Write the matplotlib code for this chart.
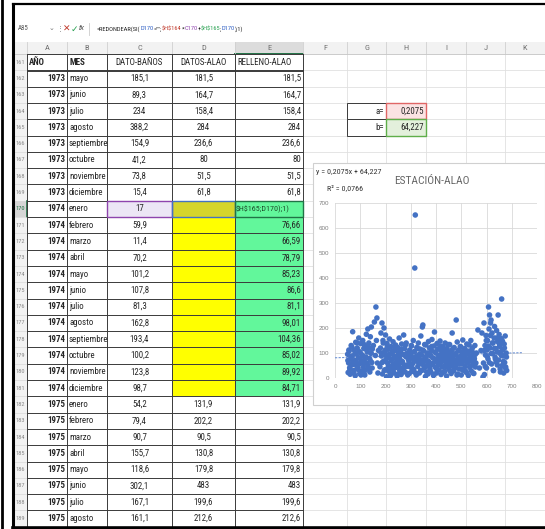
import numpy as np
import matplotlib.pyplot as plt
from matplotlib import font_manager
from matplotlib.font_manager import FontProperties
from matplotlib.patches import Rectangle

plt.rcParams['font.family'] = ['Liberation Sans', 'DejaVu Sans']


def _peso(f):
    w = f.weight
    if isinstance(w, str):
        w = font_manager.weight_dict.get(w, 400)
    return w


# fuente estrecha tipo hoja de cálculo, si hay alguna instalada
preferidas = ['Liberation Sans Narrow', 'Roboto Condensed', 'DejaVu Sans Condensed', 'Open Sans Condensed']
estrechas = [f for f in font_manager.fontManager.ttflist
             if f.style == 'normal' and (any(w in f.name for w in ('Narrow', 'Condensed'))
                                         or f.stretch in ('condensed', 'semi-condensed'))]
estrechas.sort(key=lambda f: preferidas.index(f.name) if f.name in preferidas else 99)
reg = [f for f in estrechas if 350 <= _peso(f) <= 450]
neg = [f for f in estrechas if _peso(f) >= 600]


def fuente(size, bold=False):
    if bold and neg:
        return FontProperties(fname=neg[0].fname, size=size)
    if reg:
        return FontProperties(fname=reg[0].fname, size=size)
    return FontProperties(family=['Liberation Sans', 'DejaVu Sans'], size=size * 0.9,
                          weight='bold' if bold else 'normal')


# ---- hoja de cálculo ----
encabezados = ['AÑO', 'MES', 'DATO-BAÑOS', 'DATOS-ALAO', 'RELLENO-ALAO']
primera_fila = 161
anios = [1973] * 8 + [1974] * 12 + [1975] * 8
meses = ['mayo', 'junio', 'julio', 'agosto', 'septiembre', 'octubre', 'noviembre', 'diciembre',
         'enero', 'febrero', 'marzo', 'abril', 'mayo', 'junio', 'julio', 'agosto',
         'septiembre', 'octubre', 'noviembre', 'diciembre',
         'enero', 'febrero', 'marzo', 'abril', 'mayo', 'junio', 'julio', 'agosto']
dato_banos = [185.1, 89.3, 234, 388.2, 154.9, 41.2, 73.8, 15.4,
              17, 59.9, 11.4, 70.2, 101.2, 107.8, 81.3, 162.8, 193.4, 100.2, 123.8, 98.7,
              54.2, 79.4, 90.7, 155.7, 118.6, 302.1, 167.1, 161.1]
datos_alao = [181.5, 164.7, 158.4, 284, 236.6, 80, 51.5, 61.8] + [None] * 12 + \
             [131.9, 202.2, 90.5, 130.8, 179.8, 483, 199.6, 212.6]
relleno_alao = [181.5, 164.7, 158.4, 284, 236.6, 80, 51.5, 61.8,
                None, 76.66, 66.59, 78.79, 85.23, 86.6, 81.1, 98.01, 104.36, 85.02, 89.92, 84.71,
                131.9, 202.2, 90.5, 130.8, 179.8, 483, 199.6, 212.6]
coef_a, coef_b, r2 = 0.2075, 64.227, 0.0766

formula = [('=REDONDEAR(SI(', '#222222'), ('D170', '#2f5fc4'), ('="";', '#222222'),
           ('$H$164', '#c0392b'), ('*', '#222222'), ('C170', '#8e44ad'), ('+', '#222222'),
           ('$H$165', '#27a050'), (';', '#222222'), ('D170', '#2f5fc4'), (');1)', '#222222')]

# ---- puntos del gráfico (mes, precipitación) ----
mes_x = [50, 52, 54, 56, 58, 60, 62, 64, 66, 68,
         70, 72, 74, 76, 78, 80, 82, 84, 86, 88,
         90, 92, 94, 96, 98, 100, 102, 104, 106, 108,
         110, 112, 114, 116, 118, 120, 122, 124, 126, 128,
         130, 132, 134, 136, 138, 140, 142, 144, 146, 148,
         152, 156, 160, 162, 164, 166, 168, 170, 172,
         178, 180, 182, 184, 186, 188, 190, 192, 194, 196,
         198, 200, 202, 204, 206, 208, 210, 212, 214, 216,
         218, 220, 222, 224, 226, 228, 230, 232, 234, 236,
         238, 240, 242, 244, 246, 248, 250, 252, 254, 256,
         258, 260, 262, 264, 266, 268, 270, 272, 274, 276,
         278, 280, 282, 284, 286, 288, 290,
         292, 294, 296, 298, 300, 302, 304, 306, 308, 310,
         312, 314, 316, 318, 320, 322, 324, 326, 328, 330,
         332, 334, 336, 338, 340, 342, 344, 346, 348, 350,
         352, 354, 356, 358, 360, 362, 364, 366, 368, 370,
         372, 374, 376, 378, 380, 382, 384, 386, 388, 390,
         392, 394, 396, 398, 400, 402, 404, 406, 408, 410,
         412, 414, 416, 418, 420, 422, 424, 426, 428, 430,
         432, 434, 436, 438, 440, 442, 444, 446, 448, 450,
         452, 454, 456, 458, 460, 462, 464, 466, 468, 470,
         472, 474, 476, 478, 480, 482, 484, 486, 488, 490,
         492, 494, 496, 498, 500, 502, 504, 506, 508, 510,
         512, 514, 516, 518, 520, 522, 524, 526, 528, 530,
         532, 534, 536, 538, 540, 542, 544, 546, 548, 550,
         552, 554, 556, 558, 560,
         566, 572, 578, 582, 586,
         588, 590, 592, 594, 596, 598, 600, 602, 604, 606,
         608, 610, 612, 614, 616, 618, 620, 622, 624, 626,
         628, 630, 632, 634, 636, 638, 640, 642, 644, 646,
         648, 650, 652, 654, 656, 658, 660, 662, 664, 666,
         668, 670, 672, 674, 676, 678, 680,
         51, 55, 59, 63, 67, 71, 75, 79, 83, 87,
         91, 95, 99, 103, 107, 111, 115, 119, 123, 127,
         131, 135, 139, 143, 147,
         183, 187, 191, 195, 199, 203, 207, 211, 215, 219,
         223, 227, 231, 235, 239, 243, 247, 251, 255, 259,
         263, 267, 271, 275, 279, 283, 287,
         295, 299, 303, 307, 311, 315, 319, 323, 327, 331,
         335, 339, 343, 347, 351, 355, 359, 363, 367, 371,
         375, 379, 383, 387, 391, 395, 399, 403, 407, 411,
         415, 419, 423, 427, 431, 435, 439, 443, 447, 451,
         455, 459, 463, 467, 471, 475, 479, 483, 487, 491,
         495, 499, 503, 507, 511, 515, 519, 523, 527, 531,
         535, 539, 543, 547, 551, 555,
         591, 595, 599, 603, 607, 611, 615, 619, 623, 627,
         631, 635, 639, 643, 647, 651, 655, 659, 663, 667,
         671, 675, 679]
lluvia_y = [95, 22, 60, 108, 41, 15, 77, 130, 52, 88,
            185, 64, 30, 112, 70, 9, 143, 96, 48, 120,
            35, 81, 160, 57, 18, 102, 138, 66, 27, 91,
            150, 44, 118, 72, 12, 128, 84, 175, 58, 104,
            196, 38, 140, 78, 24, 165, 99, 204, 62, 116,
            130, 224, 90, 284, 150, 240, 60, 20, 110,
            45, 120, 180, 88, 220, 16, 150, 67, 200, 104,
            33, 172, 92, 5, 138, 60, 115, 28, 84, 156,
            48, 10, 126, 74, 98, 38, 145, 56, 20, 110,
            80, 132, 42, 66, 8, 122, 90, 54, 160, 30,
            72, 106, 14, 136, 62, 94, 36, 172, 50, 118,
            24, 86, 140, 46, 100, 12, 76,
            70, 18, 112, 44, 96, 130, 26, 82, 58, 150,
            34, 104, 440, 652, 68, 12, 122, 88, 46, 140,
            76, 20, 116, 58, 168, 92, 30, 204, 212, 64,
            108, 40, 84, 6, 132, 72, 50, 98, 16, 146,
            62, 120, 36, 88, 24, 110, 154, 54, 80, 10,
            128, 184, 66, 42, 100, 20, 138, 74, 56, 116,
            32, 90, 148, 60, 14, 106, 78, 44, 124, 68,
            96, 26, 140, 52, 84, 8, 118, 64, 102, 38,
            76, 134, 48, 92, 18, 110, 180, 58, 86, 28,
            122, 70, 40, 98, 232, 54, 144, 16, 82, 112,
            36, 66, 126, 88, 12, 104, 56, 152, 74, 30,
            94, 118, 46, 80, 22, 136, 62, 100, 10, 72,
            108, 42, 86, 150, 28, 68, 120, 52, 96, 18,
            78, 130, 44, 60, 100,
            192, 40, 110, 180, 4,
            60, 220, 14, 130, 92, 170, 40, 112, 150, 76,
            284, 196, 252, 120, 220, 232, 56, 180, 98, 140,
            30, 160, 206, 84, 118, 64, 190, 104, 146, 252,
            72, 174, 126, 36, 96, 158, 316, 50, 112, 88,
            20, 136, 62, 168, 44, 100, 30,
            70, 112, 34, 86, 124, 55, 20, 98, 66, 140,
            40, 106, 78, 12, 92, 60, 134, 30, 82, 110,
            50, 122, 72, 100, 40,
            100, 62, 140, 30, 112, 76, 128, 46, 96, 18,
            70, 108, 34, 88, 124, 58, 14, 102, 80, 40,
            116, 66, 26, 94, 132, 52, 84,
            54, 92, 128, 38, 74, 106, 20, 86, 118, 62,
            96, 30, 72, 112, 50, 134, 82, 24, 100, 66,
            44, 90, 126, 58, 14, 104, 76, 36, 116, 88,
            52, 128, 70, 22, 96, 110, 46, 80, 134, 60,
            28, 102, 74, 118, 40, 92, 64, 12, 108, 84,
            56, 124, 34, 90, 70, 114, 26, 98, 62, 132,
            48, 80, 106, 20, 74, 94,
            110, 46, 150, 86, 128, 62, 170, 98, 140, 30,
            118, 76, 160, 52, 104, 136, 24, 90, 148, 66,
            120, 40, 84]
rango_tendencia = [0, 740]


def fmt(v):
    return f"{v:g}".replace(".", ",")


W, H = 545, 529
fig = plt.figure(figsize=(W / 100, H / 100), dpi=100)
ax = fig.add_axes([0, 0, 1, 1])
ax.set_xlim(0, W)
ax.set_ylim(H, 0)
ax.axis('off')

bordes = [14, 27, 67, 107, 172, 235, 303, 347, 386, 426, 466, 505, 545]
letras = ['A', 'B', 'C', 'D', 'E', 'F', 'G', 'H', 'I', 'J', 'K']
y0, alto = 54, 16.3
n_filas = 1 + len(meses)
y_fin = y0 + n_filas * alto
tam = 6.4
texto = '#262626'
oscuro = '#3a3a3a'

# barra de fórmulas
ax.text(18, 29, 'A85', fontproperties=fuente(5), color='#555555', va='center')
ax.text(49, 29, '⌄', fontsize=5, color='#777777', va='center')
ax.text(57, 29, '⋮', fontsize=5, color='#777777', va='center')
ax.text(63, 29, '✕', fontsize=6.5, color='#c0392b', va='center')
ax.text(71, 29, '✓', fontsize=6.5, color='#27a050', va='center')
ax.text(79, 29, 'fx', fontsize=5.5, style='italic', color='#444444', va='center')
ax.plot([89, 89], [23, 35], color='#cccccc', lw=0.6)
fig.canvas.draw()
rend = fig.canvas.get_renderer()
xf = 97
for trozo, col in formula:
    t = ax.text(xf, 29, trozo, fontproperties=fuente(4.6), color=col, va='center', parse_math=False)
    bb = t.get_window_extent(rend)
    xf = ax.transData.inverted().transform((bb.x1, bb.y0))[0]

# encabezado de columnas
ax.add_patch(Rectangle((bordes[0], 42), W - bordes[0], 12, fc='#f2f2f2', ec='none'))
ax.add_patch(Rectangle((bordes[5], 42), bordes[6] - bordes[5], 12, fc='#dcdcdc', ec='none'))
ax.plot([bordes[5], bordes[6]], [53.5, 53.5], color='#217346', lw=1.4)
for k, letra in enumerate(letras):
    xc = (bordes[k + 1] + bordes[k + 2]) / 2
    ax.text(xc, 48, letra, fontproperties=fuente(6), color='#707070', ha='center', va='center')
    ax.plot([bordes[k + 1]] * 2, [42, 54], color='#d0d0d0', lw=0.6)
ax.plot([bordes[0], W], [54, 54], color='#c8c8c8', lw=0.6)

# números de fila
ax.add_patch(Rectangle((bordes[0], y0), bordes[1] - bordes[0], y_fin - y0, fc='#f2f2f2', ec='none'))
for i in range(n_filas):
    yc = y0 + (i + 0.5) * alto
    sel = primera_fila + i == 170
    if sel:
        ax.add_patch(Rectangle((bordes[0], y0 + i * alto), bordes[1] - bordes[0], alto,
                               fc='#d6d6d6', ec='none'))
        ax.plot([bordes[1], bordes[1]], [y0 + i * alto, y0 + (i + 1) * alto], color='#217346', lw=1.2)
    ax.text(bordes[0] + 1, yc, str(primera_fila + i), fontproperties=fuente(4.6),
            color='#217346' if sel else '#8a8a8a', va='center')
    ax.plot([bordes[0], bordes[1]], [y0 + (i + 1) * alto] * 2, color='#d8d8d8', lw=0.5)

# cuadrícula clara de las columnas vacías
for i in range(n_filas + 1):
    ax.plot([bordes[6], W], [y0 + i * alto] * 2, color='#e0e0e0', lw=0.6, zorder=1)
for xb in bordes[7:-1]:
    ax.plot([xb, xb], [y0, y_fin], color='#e0e0e0', lw=0.6, zorder=1)

# rellenos de celdas
for i in range(1, n_filas):
    fila = primera_fila + i
    ytop = y0 + i * alto
    if datos_alao[i - 1] is None and fila != 170:
        ax.add_patch(Rectangle((bordes[4], ytop), bordes[5] - bordes[4], alto, fc='#ffff00', ec='none'))
    if 170 <= fila <= 181:
        ax.add_patch(Rectangle((bordes[5], ytop), bordes[6] - bordes[5], alto, fc='#62f79b', ec='none'))
    if fila == 170:
        ax.add_patch(Rectangle((bordes[3], ytop), bordes[4] - bordes[3], alto, fc='#ece6f5', ec='none'))
        ax.add_patch(Rectangle((bordes[4], ytop), bordes[5] - bordes[4], alto, fc='#d5d52c', ec='none'))

# bordes de la tabla
for i in range(n_filas + 1):
    ax.plot([bordes[1], bordes[6]], [y0 + i * alto] * 2, color=oscuro, lw=0.7, zorder=2)
ax.plot([bordes[1], bordes[6]], [y0 + alto + 0.8] * 2, color=oscuro, lw=0.7, zorder=2)
for xb in bordes[1:7]:
    ax.plot([xb, xb], [y0, y_fin], color=oscuro, lw=0.7, zorder=2)

# marcas de selección en la fila 170
i170 = 170 - primera_fila
yt = y0 + i170 * alto
ax.add_patch(Rectangle((bordes[3], yt), bordes[4] - bordes[3], alto, fc='none', ec='#8e44ad', lw=1.0, zorder=3))
ax.add_patch(Rectangle((bordes[4], yt), bordes[5] - bordes[4], alto, fc='none', ec='#4472c4', lw=1.0, zorder=3))
ax.add_patch(Rectangle((bordes[5], yt), bordes[6] - bordes[5], alto, fc='none', ec='#217346', lw=1.0, zorder=3))

# textos de la tabla
yc = y0 + 0.5 * alto
ax.text(bordes[1] + 2, yc, encabezados[0], fontproperties=fuente(tam, True), color=texto, va='center', zorder=4)
ax.text(bordes[2] + 2, yc, encabezados[1], fontproperties=fuente(tam, True), color=texto, va='center', zorder=4)
ax.text((bordes[3] + bordes[4]) / 2, yc, encabezados[2], fontproperties=fuente(tam), color=texto,
        ha='center', va='center', zorder=4)
ax.text((bordes[4] + bordes[5]) / 2, yc, encabezados[3], fontproperties=fuente(tam), color=texto,
        ha='center', va='center', zorder=4)
ax.text(bordes[5] + 2, yc, encabezados[4], fontproperties=fuente(tam), color=texto, va='center', zorder=4)
for i in range(1, n_filas):
    yc = y0 + (i + 0.5) * alto
    k = i - 1
    ax.text(bordes[2] - 2, yc, str(anios[k]), fontproperties=fuente(tam, True), color=texto,
            ha='right', va='center', zorder=4)
    ax.text(bordes[2] + 2, yc, meses[k], fontproperties=fuente(tam), color=texto, va='center', zorder=4)
    ax.text((bordes[3] + bordes[4]) / 2, yc, fmt(dato_banos[k]), fontproperties=fuente(tam), color=texto,
            ha='center', va='center', zorder=4)
    if datos_alao[k] is not None:
        ax.text((bordes[4] + bordes[5]) / 2, yc, fmt(datos_alao[k]), fontproperties=fuente(tam), color=texto,
                ha='center', va='center', zorder=4)
    if relleno_alao[k] is not None:
        ax.text(bordes[6] - 2, yc, fmt(relleno_alao[k]), fontproperties=fuente(tam), color=texto,
                ha='right', va='center', zorder=4)
    else:
        ax.text(bordes[5] + 1, yc, '$H$165;D170);1)', fontproperties=fuente(5.8), color='#1e4d2b',
                va='center', zorder=4, parse_math=False)

# coeficientes a y b
for j, (etq, val, fondo, borde) in enumerate([('a=', coef_a, '#fbe3e3', '#e06666'),
                                              ('b=', coef_b, '#e3f0dc', '#5fae4a')]):
    ytop = y0 + (3 + j) * alto
    yc = ytop + alto / 2
    ax.add_patch(Rectangle((bordes[7], ytop), bordes[8] - bordes[7], alto, fc='white', ec=oscuro, lw=0.7, zorder=3))
    ax.add_patch(Rectangle((bordes[8], ytop), bordes[9] - bordes[8], alto, fc=fondo, ec=borde, lw=1.0, zorder=3))
    ax.text(bordes[8] - 2, yc, etq, fontproperties=fuente(tam), color=texto, ha='right', va='center', zorder=4)
    ax.text(bordes[9] - 2, yc, fmt(val), fontproperties=fuente(tam), color=texto, ha='right', va='center', zorder=4)

# marco exterior
ax.plot([13, 13], [4, 528], color='black', lw=2.2, zorder=10)
ax.plot([13, W], [4, 4], color='black', lw=1.6, zorder=10)
ax.plot([13, W], [527.5, 527.5], color='black', lw=2.6, zorder=10)
ax.plot([1.5, 1.5], [0, H], color='black', lw=2, zorder=10)

# cuadro del gráfico
ax.add_patch(Rectangle((313, 163), W - 313, 242, fc='white', ec='#d0d0d0', lw=0.8, zorder=6))
ax.text(316, 172, f'y = {fmt(coef_a)}x + {fmt(coef_b)}', fontproperties=fuente(5.8),
        color='#333333', va='center', zorder=7)
ax.text(327, 188, f'R² = {fmt(r2)}', fontproperties=fuente(5.8), color='#333333', va='center', zorder=7)
ax.text(432, 181, 'ESTACIÓN-ALAO', fontproperties=fuente(8.2), color='#666666',
        ha='center', va='center', zorder=7)

cx = fig.add_axes([335 / W, 1 - 378 / H, 202 / W, 175 / H])
cx.patch.set_alpha(0)
cx.set_xlim(0, 800)
cx.set_ylim(0, 700)
cx.set_xticks(np.arange(0, 900, 100))
cx.set_yticks(np.arange(0, 800, 100))
cx.grid(True, color='#d9d9d9', lw=0.6)
cx.set_axisbelow(True)
for s in cx.spines.values():
    s.set_visible(False)
cx.tick_params(length=0, labelsize=4.5, labelcolor='#808080', pad=4)

mx = np.array(mes_x, dtype=float)
ly = np.array(lluvia_y, dtype=float)
pend, orde = np.polyfit(mx, ly, 1)
xt = np.array(rango_tendencia, dtype=float)
cx.scatter(mx, ly, s=16, color='#4472c4', edgecolors='none', zorder=3)
cx.plot(xt, pend * xt + orde, color='#6f94d6', lw=0.8, ls=(0, (2, 1.2)), zorder=2)

fig.savefig('out.png', dpi=100)
